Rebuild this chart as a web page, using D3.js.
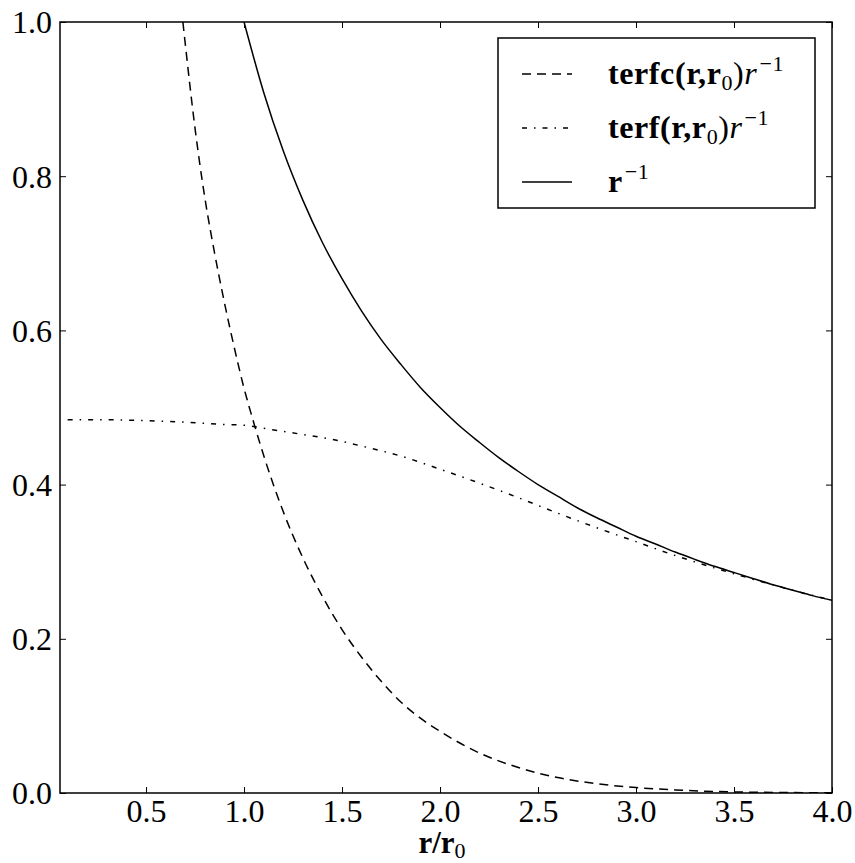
<!DOCTYPE html>
<html>
<head>
<meta charset="utf-8">
<script src="https://cdn.jsdelivr.net/npm/d3@7"></script>
<style>
  html, body { margin: 0; padding: 0; background: #fff; }
  svg { display: block; }
  svg text { font-family: "Liberation Serif", "Times New Roman", "DejaVu Serif", serif !important; fill: #000; }
</style>
</head>
<body>
<svg id="chart" width="855" height="863"></svg>
<script>
// Complementary screened term, terfc(r, r0) / r
const terfcX = [0.688, 0.70, 0.75, 0.80, 0.85, 0.90, 0.95, 1.00, 1.05, 1.10, 1.20, 1.30, 1.40, 1.50, 1.60, 1.70, 1.80, 1.90, 2.00, 2.20, 2.40, 2.60, 2.80, 3.00, 3.20, 3.40, 3.60, 3.80, 4.00];
const terfcY = [1.000, 0.972, 0.862, 0.772, 0.700, 0.636, 0.578, 0.525, 0.480, 0.438, 0.365, 0.305, 0.255, 0.212, 0.176, 0.145, 0.118, 0.097, 0.080, 0.052, 0.033, 0.020, 0.012, 0.007, 0.004, 0.002, 0.001, 0.0005, 0.0002];

// Screened term, terf(r, r0) / r
const terfX = [0.10, 0.30, 0.50, 0.70, 0.90, 1.00, 1.10, 1.20, 1.30, 1.40, 1.50, 1.60, 1.80, 2.00, 2.20, 2.40, 2.60, 2.80, 3.00, 3.20, 3.40, 3.60, 3.80, 4.00];
const terfY = [0.484, 0.484, 0.483, 0.481, 0.478, 0.477, 0.473, 0.469, 0.465, 0.461, 0.456, 0.450, 0.437, 0.420, 0.402, 0.383, 0.363, 0.344, 0.326, 0.308, 0.292, 0.277, 0.263, 0.250];

// Bare Coulomb term, 1 / r
const invX = [1.0, 1.1, 1.2, 1.3, 1.4, 1.5, 1.6, 1.7, 1.8, 1.9, 2.0, 2.1, 2.2, 2.3, 2.4, 2.5, 2.6, 2.7, 2.8, 2.9, 3.0, 3.1, 3.2, 3.3, 3.4, 3.5, 3.6, 3.7, 3.8, 3.9, 4.0];
const invY = [1.000, 0.909, 0.833, 0.769, 0.714, 0.667, 0.625, 0.588, 0.556, 0.526, 0.500, 0.476, 0.455, 0.435, 0.417, 0.400, 0.385, 0.370, 0.357, 0.345, 0.333, 0.323, 0.3125, 0.303, 0.294, 0.286, 0.278, 0.270, 0.263, 0.256, 0.250];

const xTicks = [0.5, 1.0, 1.5, 2.0, 2.5, 3.0, 3.5, 4.0];
const yTicks = [0.0, 0.2, 0.4, 0.6, 0.8, 1.0];

const margin = { left: 60, top: 22, right: 23, bottom: 70 };
const W = 855, H = 863;
const iw = W - margin.left - margin.right;   // 772
const ih = H - margin.top - margin.bottom;   // 771

const svg = d3.select("#chart");
const g = svg.append("g").attr("transform", `translate(${margin.left},${margin.top})`);

const x = d3.scaleLinear().domain([0.061, 4.0]).range([0, iw]);
const y = d3.scaleLinear().domain([0, 1]).range([ih, 0]);

svg.append("defs").append("clipPath").attr("id", "plotclip")
  .append("rect").attr("x", 0).attr("y", 0).attr("width", iw).attr("height", ih);

const line = d3.line().x(d => x(d[0])).y(d => y(d[1])).curve(d3.curveMonotoneX);
const series = [
  { xs: terfcX, ys: terfcY, dash: "9,6" },
  { xs: terfX, ys: terfY, dash: "5,7,1.5,7" },
  { xs: invX, ys: invY, dash: null }
];

const plot = g.append("g").attr("clip-path", "url(#plotclip)");
series.forEach(s => {
  plot.append("path")
    .datum(s.xs.map((v, i) => [v, s.ys[i]]))
    .attr("d", line)
    .attr("fill", "none")
    .attr("stroke", "#000")
    .attr("stroke-width", 1.5)
    .attr("stroke-dasharray", s.dash);
});

// Axes: ticks point inward on all four sides, labels on bottom and left
const tickLen = 6;
const fmt = d3.format(".1f");
const serif = "'Liberation Serif', 'Times New Roman', serif";

const axB = g.append("g").attr("transform", `translate(0,${ih})`)
  .call(d3.axisBottom(x).tickValues(xTicks).tickSize(-tickLen).tickPadding(6).tickFormat(fmt));
const axT = g.append("g")
  .call(d3.axisTop(x).tickValues(xTicks).tickSize(-tickLen).tickFormat(""));
const axL = g.append("g")
  .call(d3.axisLeft(y).tickValues(yTicks).tickSize(-tickLen).tickPadding(8).tickFormat(fmt));
const axR = g.append("g").attr("transform", `translate(${iw},0)`)
  .call(d3.axisRight(y).tickValues(yTicks).tickSize(-tickLen).tickFormat(""));

[axB, axT, axL, axR].forEach(a => {
  a.attr("font-family", null).attr("font-size", null);
  a.select(".domain").remove();
  a.selectAll(".tick line").attr("stroke", "#000").attr("stroke-width", 1);
  a.selectAll(".tick text").style("font-family", serif).style("font-size", "32px").attr("fill", "#000");
});
axB.selectAll(".tick text").attr("dy", "0.71em");
axL.selectAll(".tick text").attr("dy", "0.34em");

// Frame
g.append("rect").attr("x", 0).attr("y", 0).attr("width", iw).attr("height", ih)
  .attr("fill", "none").attr("stroke", "#000").attr("stroke-width", 1.5);

// X-axis label: r/r0
const xl = svg.append("text")
  .attr("x", margin.left + iw / 2 - 4).attr("y", 853)
  .attr("text-anchor", "middle").style("font-family", serif).style("font-size", "31px");
xl.append("tspan").attr("font-weight", "bold").text("r/r");
xl.append("tspan").style("font-size", "22px").attr("dy", 5).text("0");

// Legend
const lg = svg.append("g").attr("transform", "translate(498,38)");
lg.append("rect").attr("width", 317).attr("height", 170)
  .attr("fill", "#fff").attr("stroke", "#000").attr("stroke-width", 1.5);

const legendRows = [
  { dash: "9,6", name: "terfc(r,r", sub: "0", yy: 36 },
  { dash: "5,7,1.5,7", name: "terf(r,r", sub: "0", yy: 90 },
  { dash: null, name: "r", sub: null, yy: 144 }
];
legendRows.forEach(r => {
  lg.append("line").attr("x1", 24).attr("x2", 74).attr("y1", r.yy).attr("y2", r.yy)
    .attr("stroke", "#000").attr("stroke-width", 1.5).attr("stroke-dasharray", r.dash);
  const t = lg.append("text").attr("x", 110).attr("y", r.yy + 10)
    .style("font-family", serif).style("font-size", "32px").style("letter-spacing", "0.6px");
  t.append("tspan").attr("font-weight", "bold").text(r.name);
  if (r.sub) {
    t.append("tspan").style("font-size", "22px").attr("dy", 6).text(r.sub);
    t.append("tspan").attr("dy", -6).text(")");
    t.append("tspan").attr("font-style", "italic").text("r");
  }
  t.append("tspan").style("font-size", "22px").attr("dy", -13).attr("dx", 2).text("\u22121");
});
</script>
</body>
</html>
